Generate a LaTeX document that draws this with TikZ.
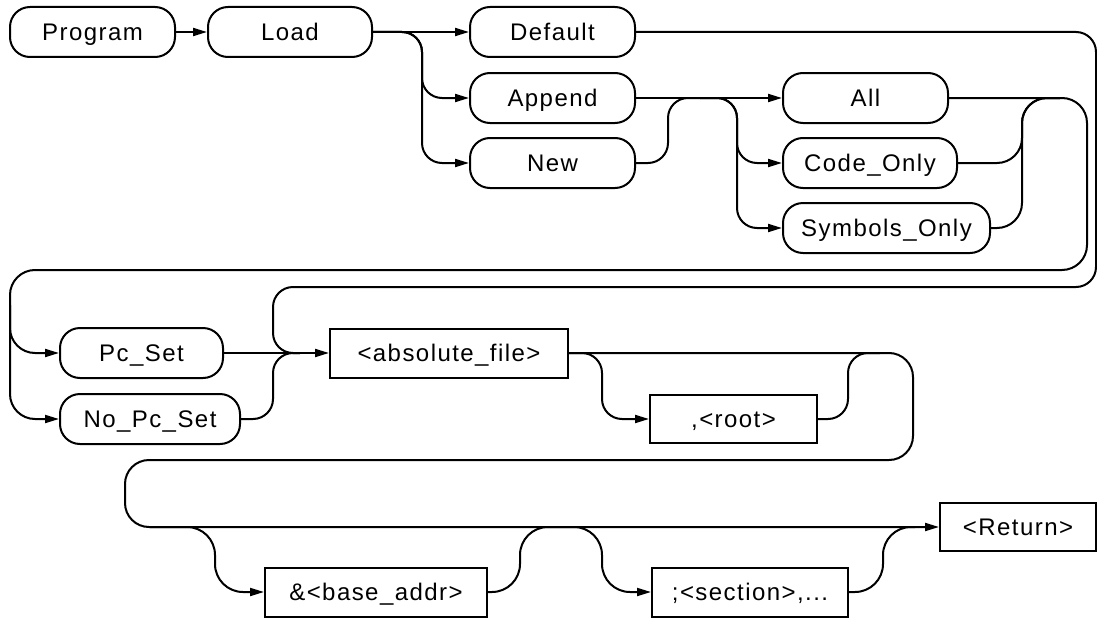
\documentclass[tikz,border=0pt]{standalone}
\usepackage{fontspec}
\setmainfont{Liberation Sans}[LetterSpace=6]
\usetikzlibrary{arrows.meta}
\tikzset{
  base/.style={draw, line width=2pt, inner sep=0pt, font=\fontsize{24}{28}\selectfont, text height=17pt, text depth=0pt},
  term/.style={base, rounded corners=20pt, minimum height=50pt},
  nterm/.style={base, minimum height=49pt},
  conn/.style={line width=2pt, rounded corners=20pt},
  arr/.style={-{Triangle[length=14pt,width=8pt]}},
}
\begin{document}
\begin{tikzpicture}[x=1pt,y=-1pt]
\useasboundingbox (0,0) rectangle (1097,618);
% nodes
\node[term, minimum width=165pt] (Program) at (92.5,32) {Program};
\node[term, minimum width=164pt] (Load) at (290,32) {Load};
\node[term, minimum width=165pt] (Default) at (552.5,32) {Default};
\node[term, minimum width=165pt] (Append) at (552.5,98) {Append};
\node[term, minimum width=165pt] (New) at (552.5,163) {New};
\node[term, minimum width=165pt] (All) at (865.5,98) {All};
\node[term, minimum width=174pt] (CodeOnly) at (870,163) {Code\_Only};
\node[term, minimum width=207pt] (SymOnly) at (886.5,228) {Symbols\_Only};
\node[term, minimum width=163pt] (PcSet) at (141.5,353) {Pc\_Set};
\node[term, minimum width=180pt] (NoPcSet) at (150,419) {No\_Pc\_Set};
\node[nterm, minimum width=238pt] (absfile) at (449,353) {<absolute\_file>};
\node[nterm, minimum width=167pt, minimum height=48pt] (root) at (733.5,419) {,<root>};
\node[nterm, minimum width=222pt] (base) at (376,592) {\&<base\_addr>};
\node[nterm, minimum width=196pt] (section) at (750,592) {;<section>,...};
\node[nterm, minimum width=156pt, minimum height=48pt] (Return) at (1018,527) {<Return>};
% rails and junctions
\coordinate (rA) at (422,0);
\coordinate (rB) at (668,0);
\coordinate (rC) at (737,0);
\coordinate (rD) at (1022,0);
\coordinate (rE) at (1087,0);
\coordinate (rF) at (10,0);
\coordinate (rG) at (1096,0);
\coordinate (rH) at (273,0);
\coordinate (rI) at (913,0);
\coordinate (rJ) at (125,0);
\coordinate (rK) at (602,0);
\coordinate (rL) at (848,0);
\coordinate (rM) at (215,0);
\coordinate (rN) at (520,0);
\coordinate (rO) at (602,0);
\coordinate (rP) at (883,0);
\coordinate (loopI) at (0,270);
\coordinate (loopO) at (0,287);
\coordinate (loopP) at (0,460);
\coordinate (jA) at (700,98);
\coordinate (jB) at (1060,98);
\coordinate (jC) at (300,353);
\coordinate (jD) at (880,353);
\coordinate (jE) at (150,527);
\coordinate (jF) at (550,527);
\coordinate (jG) at (915,527);
\coordinate (jH) at (10,305);
% connectors
\draw[conn,arr] (Program.east) -- (Load.west);
\draw[conn,arr] (Load.east) -- (Default.west);
\draw[conn,arr] (Load.east) -| (rA |- Append.west) -- (Append.west);
\draw[conn,arr] (Load.east) -| (rA |- New.west) -- (New.west);
\draw[conn,arr] (Append.east) -- (All.west);
\draw[conn] (New.east) -| (rB |- Append.east) -- (jA);
\draw[conn,arr] (jA) -| (rC |- CodeOnly.west) -- (CodeOnly.west);
\draw[conn,arr] (jA) -| (rC |- SymOnly.west) -- (SymOnly.west);
\draw[conn,rounded corners=25pt] (CodeOnly.east) -| (rD |- All.east) -- (jB);
\draw[conn,rounded corners=25pt] (SymOnly.east) -| (rD |- All.east) -- (jB);
\draw[conn,arr,rounded corners=25pt] (All.east) -| (rE |- loopI) -| (rF |- PcSet.west) -- (PcSet.west);
\draw[conn,arr,rounded corners=25pt] (jH) -- (rF |- NoPcSet.west) -- (NoPcSet.west);
\draw[conn] (Default.east) -| (rG |- loopO) -| (rH |- absfile.west) -- (jC);
\draw[conn,arr] (PcSet.east) -- (absfile.west);
\draw[conn] (NoPcSet.east) -| (rH |- absfile.west) -- (jC);
\draw[conn,arr,rounded corners=24pt] (absfile.east) -| (rI |- loopP) -| (rJ |- Return.west) -- (Return.west);
\draw[conn,arr] (absfile.east) -| (rK |- root.west) -- (root.west);
\draw[conn] (root.east) -| (rL |- absfile.east) -- (jD);
\draw[conn,arr,rounded corners=28pt] (jE) -| (rM |- base.west) -- (base.west);
\draw[conn,rounded corners=28pt] (base.east) -| (rN |- Return.west) -- (jF);
\draw[conn,arr,rounded corners=28pt] (jF) -| (rO |- section.west) -- (section.west);
\draw[conn,rounded corners=28pt] (section.east) -| (rP |- Return.west) -- (jG);
\end{tikzpicture}
\end{document}
